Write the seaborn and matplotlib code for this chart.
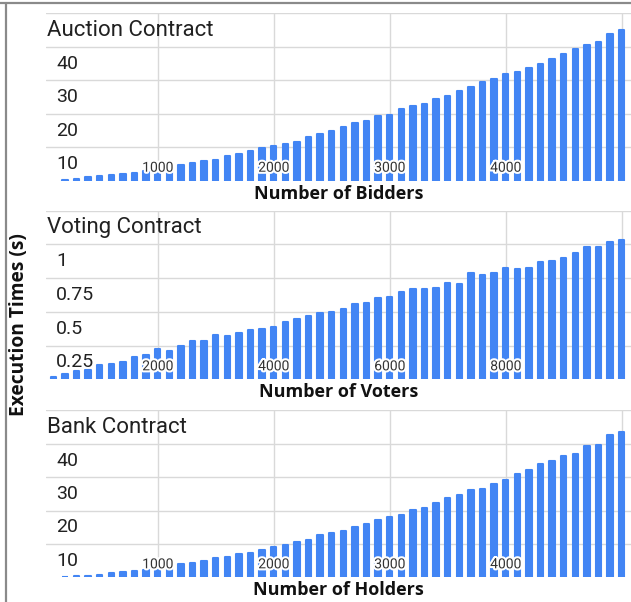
import pandas as pd
import matplotlib
matplotlib.use('Agg')
import matplotlib.pyplot as plt
import matplotlib.patheffects as pe
from matplotlib.transforms import blended_transform_factory, offset_copy
from matplotlib.lines import Line2D
import seaborn as sns

# Data
auction_bidders = [200, 300, 400, 500, 600, 700, 800, 900, 1000, 1100, 1200, 1300, 1400, 1500,
                   1600, 1700, 1800, 1900, 2000, 2100, 2200, 2300, 2400, 2500, 2600, 2700, 2800,
                   2900, 3000, 3100, 3200, 3300, 3400, 3500, 3600, 3700, 3800, 3900, 4000, 4100,
                   4200, 4300, 4400, 4500, 4600, 4700, 4800, 4900, 5000]
auction_times = [0.3, 0.6, 1.0, 1.3, 1.6, 2.0, 2.4, 2.8, 2.8, 3.4, 4.6, 5.2, 5.9, 6.3, 7.3, 8.0,
                 9.0, 9.7, 10.4, 11.0, 11.7, 13.0, 14.0, 14.8, 15.9, 17.2, 17.9, 19.2, 19.6, 21.4,
                 22.2, 22.9, 24.3, 25.3, 26.7, 28.0, 29.4, 30.4, 31.8, 32.4, 33.8, 34.9, 36.4,
                 37.8, 39.4, 40.6, 41.5, 43.7, 45.0]

voting_voters = [200, 400, 600, 800, 1000, 1200, 1400, 1600, 1800, 2000, 2200, 2400, 2600, 2800,
                 3000, 3200, 3400, 3600, 3800, 4000, 4200, 4400, 4600, 4800, 5000, 5200, 5400,
                 5600, 5800, 6000, 6200, 6400, 6600, 6800, 7000, 7200, 7400, 7600, 7800, 8000,
                 8200, 8400, 8600, 8800, 9000, 9200, 9400, 9600, 9800, 10000]
voting_times = [0.020, 0.037, 0.062, 0.072, 0.104, 0.112, 0.132, 0.164, 0.179, 0.224, 0.209,
                0.249, 0.281, 0.281, 0.328, 0.321, 0.343, 0.363, 0.373, 0.391, 0.425, 0.450,
                0.468, 0.488, 0.498, 0.522, 0.557, 0.567, 0.602, 0.609, 0.647, 0.669, 0.669,
                0.679, 0.714, 0.704, 0.791, 0.774, 0.791, 0.826, 0.816, 0.826, 0.871, 0.878,
                0.903, 0.933, 0.983, 0.983, 1.017, 1.035]

bank_holders = auction_bidders
bank_times = [0.2, 0.3, 0.5, 0.8, 1.2, 1.5, 1.9, 2.2, 2.7, 2.9, 3.9, 4.3, 5.0, 5.7, 6.1, 7.1,
              7.4, 8.2, 9.2, 9.8, 10.5, 11.3, 12.6, 13.3, 13.9, 15.0, 16.0, 17.1, 18.1, 18.8,
              20.2, 20.9, 22.3, 23.7, 24.7, 26.1, 26.5, 27.9, 29.2, 31.0, 32.0, 33.8, 34.7,
              36.2, 36.9, 39.3, 39.7, 42.5, 43.4]

time_ticks = [10, 20, 30, 40]
time_labels = ['10', '20', '30', '40']
vote_ticks = [0.25, 0.5, 0.75, 1.0]
vote_labels = ['0.25', '0.5', '0.75', '1']
count_ticks = [1000, 2000, 3000, 4000, 5000]
count_labels = ['1000', '2000', '3000', '4000', '']
voter_ticks = [2000, 4000, 6000, 8000, 10000]
voter_labels = ['2000', '4000', '6000', '8000', '']

sns.set_style('white')
plt.rcParams['font.family'] = ['Roboto', 'DejaVu Sans']

BLUE = '#4285f4'
GRID = '#d9d9d9'
LABEL_FONT = ['Open Sans', 'DejaVu Sans']

fig = plt.figure(figsize=(6.31, 6.02), dpi=100)

panels = [
    ('Auction Contract', 'Number of Bidders', auction_bidders, auction_times,
     time_ticks, time_labels, 50, count_ticks, count_labels, 100, [0.0729, 0.6998, 0.9271, 0.2781]),
    ('Voting Contract', 'Number of Voters', voting_voters, voting_times,
     vote_ticks, vote_labels, 1.25, voter_ticks, voter_labels, 200, [0.0729, 0.3699, 0.9271, 0.2801]),
    ('Bank Contract', 'Number of Holders', bank_holders, bank_times,
     time_ticks, time_labels, 50, count_ticks, count_labels, 100, [0.0729, 0.0410, 0.9271, 0.2774]),
]

for title, xlab, xs, ys, yt, ytl, ymax, xt, xtl, step, rect in panels:
    ax = fig.add_axes(rect)
    df = pd.DataFrame({'n': xs, 't': ys})
    # thick round-joined edge gives the soft bar tops of the original
    sns.barplot(data=df, x='n', y='t', native_scale=True, orient='x', width=0.47,
                color=BLUE, saturation=1, errorbar=None, linewidth=1.5,
                edgecolor=BLUE, ax=ax)
    for p in ax.patches:
        p.set_joinstyle('round')

    ax.set_xlim(0.37 * step, 50.8 * step)
    ax.set_ylim(0, ymax)
    ax.set_yticks(yt + [ymax])
    ax.set_xticks(xt)
    ax.grid(True, color=GRID, linewidth=1)
    ax.set_axisbelow(True)
    ax.tick_params(length=0, labelleft=False, labelbottom=False)
    for s in ax.spines.values():
        s.set_visible(False)
    ax.set_xlabel('')
    ax.set_ylabel('')

    # Sheets-style labels: each sits just under its own gridline, inside the plot
    ytrans = blended_transform_factory(ax.transAxes, ax.transData)
    ax.text(0, ymax, title, fontsize=16, color='#212121', ha='left', va='baseline',
            transform=offset_copy(ytrans, fig=fig, x=1.5, y=-22.4, units='dots'))
    for v, lab in zip(yt, ytl):
        ax.text(0, v, lab, fontsize=14, color='#212121', ha='left', va='baseline',
                transform=offset_copy(ytrans, fig=fig, x=10, y=-21.8, units='dots'))
    for v, lab in zip(xt, xtl):
        ax.text(v, 0, lab, fontsize=10, color='#333333', ha='center', va='baseline',
                transform=offset_copy(ax.transData, fig=fig, y=9, units='dots'),
                path_effects=[pe.withStroke(linewidth=3, foreground='white')])
    ax.text(0.5, 0, xlab, fontsize=13, fontweight='bold', family=LABEL_FONT,
            color='#111111', ha='center', va='baseline',
            transform=offset_copy(ax.transAxes, fig=fig, y=-18, units='dots'))

fig.text(19 / 631, 1 - 325 / 602, 'Execution Times (s)', rotation=90, fontsize=13.8,
         fontweight='bold', family=LABEL_FONT, color='#111111',
         ha='center', va='center')

# frame lines at the top and left edge
fig.add_artist(Line2D([0, 1], [1 - 3 / 602, 1 - 3 / 602], color='#8a8a8a', linewidth=1.6))
fig.add_artist(Line2D([6 / 631, 6 / 631], [0, 1 - 3 / 602], color='#8a8a8a', linewidth=1.6))

fig.savefig('out.png', dpi=100)
